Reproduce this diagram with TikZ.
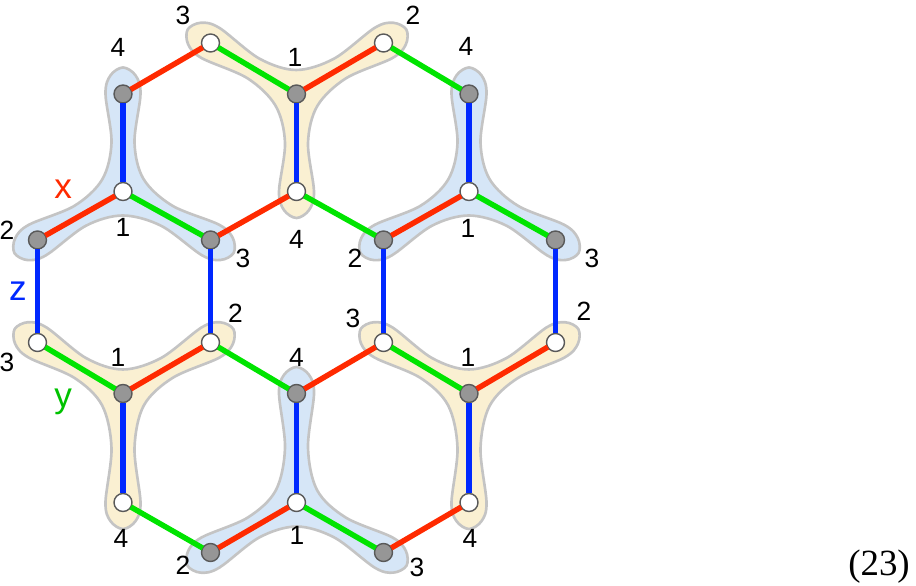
\documentclass[tikz,border=0pt]{standalone}
\usepackage{fontspec}
\setmainfont{Liberation Serif}
\setsansfont{Liberation Sans}
\usetikzlibrary{calc,backgrounds}

\definecolor{xred}{RGB}{255,42,0}
\definecolor{ygreen}{RGB}{0,228,0}
\definecolor{zblue}{RGB}{0,40,255}
\definecolor{blobblue}{RGB}{214,230,247}
\definecolor{blobyellow}{RGB}{250,240,210}
\definecolor{blobrim}{RGB}{196,196,196}
\definecolor{sitegray}{RGB}{150,150,150}

% one arm of a blob: centre, end site
\newcommand\tripodarm[2]{%
  ($(#1)!0.5!(#2)!0.115cm!-90:(#2)$) ($(#2)!0.175cm!90:(#1)$) ($(#2)!0.224cm!146:(#1)$)
  ($(#2)!0.265cm!180:(#1)$) ($(#2)!0.224cm!-146:(#1)$) ($(#2)!0.175cm!-90:(#1)$)
  ($(#1)!0.5!(#2)!0.115cm!90:(#2)$) ($(#1)!0.24cm!60:(#2)$)}
% three-armed blob round a site: fill, centre, neighbours counterclockwise
\newcommand\tripod[5]{%
  \filldraw[blob,fill=#1] plot[smooth cycle,tension=0.55] coordinates {
    \tripodarm{#2}{#3} \tripodarm{#2}{#4} \tripodarm{#2}{#5}};
}

\begin{document}
\begin{tikzpicture}[x=0.01cm,y=-0.01cm,
   site/.style={circle,draw=black!65,line width=0.4pt,minimum size=0.18cm,inner sep=0pt,outer sep=0pt},
   gsite/.style={site,fill=sitegray},
   wsite/.style={site,fill=white},
   num/.style={font=\sffamily\fontsize{7.5}{8}\selectfont,inner sep=0pt},
   bondname/.style={font=\sffamily\fontsize{10}{12}\selectfont,inner sep=0pt},
   bond/.style={line width=1.55pt},
   xbond/.style={bond,xred},
   ybond/.style={bond,ygreen},
   zbond/.style={bond,zblue},
   blob/.style={draw=blobrim,line width=0.75pt}]
\useasboundingbox (0,0) rectangle (916,586);

% sites
\foreach \n/\x/\y in {gA/123/94,gB/296.5/94,gC/469/94,gD/37.5/240,gE/210.5/240,gF/383.5/240,
    gG/555.5/240,gH/123/393.5,gI/296.5/393.5,gJ/469/393.5,gK/210.5/552.5,gL/383.5/552.5}
  \node[gsite] (\n) at (\x,\y) {};
\foreach \n/\x/\y in {wA/210.5/43,wB/383.5/43,wC/123/191.5,wD/296.5/191.5,wE/469/191.5,wF/37.5/342.5,
    wG/210.5/342.5,wH/383.5/342.5,wI/555.5/342.5,wJ/123/502.5,wK/296.5/502.5,wL/469/502.5}
  \node[wsite] (\n) at (\x,\y) {};

% bonds
\foreach \a/\b in {gA/wC,gB/wD,gC/wE,gD/wF,gE/wG,gF/wH,gG/wI,gH/wJ,gI/wK,gJ/wL}
  \draw[zbond] (\a) -- (\b);
\foreach \a/\b in {gA/wA,gB/wB,gD/wC,gE/wD,gF/wE,gH/wG,gI/wH,gJ/wI,gK/wK,gL/wL}
  \draw[xbond] (\a) -- (\b);
\foreach \a/\b in {wA/gB,wB/gC,wC/gE,wD/gF,wE/gG,wF/gH,wG/gI,wH/gJ,wJ/gK,wK/gL}
  \draw[ybond] (\a) -- (\b);

% site numbers
\foreach \n/\dx/\dy/\t in {gA/-5/-47/4,gB/-1.5/-37/1,gC/-3/-48/4,wA/-27.5/-28/3,wB/29.5/-28/2,
    wC/0/35.5/1,wD/0/48/4,wE/-1/36.5/1,gD/-30.5/-10/2,gE/32.5/18/3,gF/-28.5/18/2,gG/36.5/18/3,
    wF/-30.5/19.5/3,wG/25/-29/2,wH/-30.5/-24.5/3,wI/28.5/-31.5/2,gH/-5/-36.5/1,gI/0/-36.5/4,
    gJ/-1/-36.5/1,wJ/-2/35.5/4,wK/0.5/32.5/1,wL/1/35.5/4,gK/-27.5/12.5/2,gL/33.5/14.5/3}
  \node[num] (l\n) at ([shift={(\dx,\dy)}]\n) {\t};

% bond names
\node[bondname,text=xred] (xname) at ($(gD)!0.5!(wC)+(-17,-27)$) {x};
\node[bondname,text=zblue] (zname) at ($(gD)!0.5!(wF)+(-19.5,0)$) {z};
\node[bondname,text=ygreen!85!black] (yname) at ($(wF)!0.5!(gH)+(-17,34)$) {y};

\node[font=\fontsize{10.5}{12}\selectfont,inner sep=0pt] (eqno) at (879,567) {(23)};

\begin{pgfonlayer}{background}
  \tripod{blobblue}{wC}{gA}{gD}{gE}
  \tripod{blobblue}{wE}{gC}{gF}{gG}
  \tripod{blobblue}{wK}{gI}{gK}{gL}
  \tripod{blobyellow}{gB}{wD}{wB}{wA}
  \tripod{blobyellow}{gH}{wJ}{wG}{wF}
  \tripod{blobyellow}{gJ}{wL}{wI}{wH}
\end{pgfonlayer}
\end{tikzpicture}
\end{document}
